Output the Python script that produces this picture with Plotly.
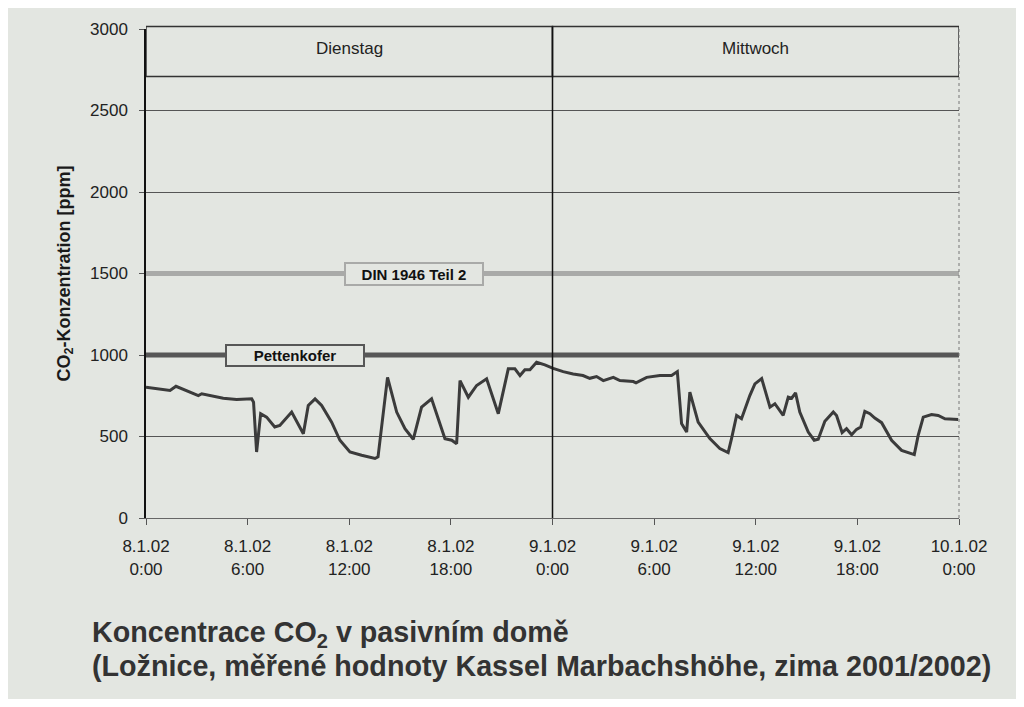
import plotly.graph_objects as go

# hours since 8.1.02 0:00
hours = [0, 1.42, 1.77, 2.4, 3.09, 3.29, 4.56, 5.35, 6.24, 6.35, 6.53, 6.77, 7.12, 7.6, 7.9,
         8.6, 9.29, 9.58, 9.98, 10.37, 10.96, 11.45, 12.04, 12.73, 13.52, 13.7, 14.26, 14.8,
         15.29, 15.78, 16.27, 16.86, 17.65, 18.05, 18.34, 18.54, 19.03, 19.52, 20.11, 20.8,
         21.39, 21.78, 22.08, 22.37, 22.67, 23.06, 23.55, 24.04, 24.63, 25.22, 25.8, 26.2,
         26.6, 27.0, 27.59, 27.98, 28.77, 28.93, 29.56, 30.34, 31.03, 31.37, 31.62, 31.92,
         32.11, 32.6, 33.29, 33.88, 34.37, 34.57, 34.87, 35.16, 35.65, 35.95, 36.35, 36.84,
         37.13, 37.62, 37.92, 38.12, 38.35, 38.6, 39.1, 39.45, 39.69, 40.08, 40.58, 40.77,
         41.1, 41.36, 41.66, 41.95, 42.2, 42.44, 42.74, 43.03, 43.43, 44.02, 44.61, 45.36,
         45.59, 45.89, 46.38, 46.77, 47.17, 47.95]
co2 = [802, 782, 808, 782, 751, 762, 735, 727, 731, 710, 405, 640, 619, 558, 568,
       650, 517, 690, 731, 690, 588, 477, 405, 385, 365, 375, 863, 650,
       548, 483, 680, 731, 487, 477, 456, 843, 741, 813, 854, 640,
       915, 915, 874, 910, 910, 955, 939, 918, 898, 884, 874, 857,
       868, 843, 863, 843, 837, 829, 863, 874, 874, 898, 579, 527,
       772, 588, 487, 426, 401, 487, 629, 609, 751, 823, 855, 680,
       701, 629, 741, 735, 768, 650, 527, 477, 483, 593, 650, 629,
       524, 548, 511, 544, 558, 654, 640, 613, 585, 477, 415, 389,
       507, 619, 635, 629, 609, 605]

tick_hours = [0, 6, 12, 18, 24, 30, 36, 42, 48]
tick_labels = ["8.1.02<br>0:00", "8.1.02<br>6:00", "8.1.02<br>12:00", "8.1.02<br>18:00",
               "9.1.02<br>0:00", "9.1.02<br>6:00", "9.1.02<br>12:00", "9.1.02<br>18:00",
               "10.1.02<br>0:00"]
y_ticks = [0, 500, 1000, 1500, 2000, 2500, 3000]
days = ["Dienstag", "Mittwoch"]
day_spans = [(0, 24), (24, 48)]
limits = {"DIN 1946 Teil 2": 1500, "Pettenkofer": 1000}
limit_label_x = {"DIN 1946 Teil 2": 15.8, "Pettenkofer": 8.8}

BG = "#e3e6e1"
FONT = "Liberation Sans, Arial, sans-serif"

fig = go.Figure()

# limit lines
fig.add_trace(go.Scatter(x=[0, 48], y=[limits["DIN 1946 Teil 2"]] * 2, mode="lines",
                         line=dict(color="#a9aaa8", width=5), hoverinfo="skip", showlegend=False))
fig.add_trace(go.Scatter(x=[0, 48], y=[limits["Pettenkofer"]] * 2, mode="lines",
                         line=dict(color="#575757", width=5), hoverinfo="skip", showlegend=False))

fig.add_trace(go.Scatter(x=hours, y=co2, mode="lines",
                         line=dict(color="#3b3b3b", width=3), showlegend=False))

shapes = []
# day header boxes
for (a, b) in day_spans:
    shapes.append(dict(type="rect", xref="x", yref="paper", x0=a, x1=b, y0=0.903, y1=1.005,
                       line=dict(color="#333", width=1.5), fillcolor=BG, layer="above"))
# midnight divider
shapes.append(dict(type="line", xref="x", yref="paper", x0=24, x1=24, y0=0, y1=1.005,
                   line=dict(color="#111", width=1.5), layer="above"))
# right border
shapes.append(dict(type="line", xref="paper", yref="paper", x0=1, x1=1, y0=0, y1=1.005,
                   line=dict(color="#777", width=1, dash="dot")))

annotations = []
for (a, b), d in zip(day_spans, days):
    annotations.append(dict(x=(a + b) / 2, y=0.96, xref="x", yref="paper", text=d,
                            xanchor="center", yanchor="middle",
                            showarrow=False, font=dict(family=FONT, size=17, color="#222")))

annotations.append(dict(x=limit_label_x["DIN 1946 Teil 2"], y=limits["DIN 1946 Teil 2"],
                        xref="x", yref="y", text="<b>DIN 1946 Teil 2</b>", showarrow=False,
                        xanchor="center", yanchor="middle",
                        font=dict(family=FONT, size=15, color="#111"), bgcolor=BG,
                        bordercolor="#a9aaa8", borderwidth=2, width=134, height=18, borderpad=1))
annotations.append(dict(x=limit_label_x["Pettenkofer"], y=limits["Pettenkofer"],
                        xref="x", yref="y", text="<b>Pettenkofer</b>", showarrow=False,
                        xanchor="center", yanchor="middle",
                        font=dict(family=FONT, size=15, color="#111"), bgcolor=BG,
                        bordercolor="#575757", borderwidth=2, width=134, height=17, borderpad=1))

annotations.append(dict(x=-0.0996, y=0.5, xref="paper", yref="paper", textangle=-90,
                        xanchor="center", yanchor="middle",
                        text="<b>CO<sub>2</sub>-Konzentration [ppm]</b>", showarrow=False,
                        font=dict(family=FONT, size=18, color="#1a1a1a")))

CAP_FONT = "Liberation Sans Narrow, Arial Narrow, Liberation Sans, Arial, sans-serif"
annotations.append(dict(x=-0.069, y=-0.238, xref="paper", yref="paper", xanchor="left",
                        yanchor="middle", showarrow=False,
                        text="<b>Koncentrace CO<sub>2</sub> v pasivním domě</b>",
                        font=dict(family=CAP_FONT, size=28.7, color="#333")))
annotations.append(dict(x=-0.069, y=-0.302, xref="paper", yref="paper", xanchor="left",
                        yanchor="middle", showarrow=False,
                        text="<b>(Ložnice, měřené hodnoty Kassel Marbachshöhe, zima 2001/2002)</b>",
                        font=dict(family=CAP_FONT, size=28.7, color="#333")))

fig.update_layout(
    width=1008, height=691,
    margin=dict(l=138, r=57, t=19, b=181),
    paper_bgcolor=BG, plot_bgcolor=BG,
    shapes=shapes, annotations=annotations,
    xaxis=dict(range=[0, 48], tickmode="array", tickvals=tick_hours, ticktext=tick_labels,
               showgrid=False, zeroline=False, showline=True, linecolor="#666", linewidth=1,
               ticks="outside", ticklen=6, tickcolor="#555", ticklabelstandoff=7,
               tickfont=dict(family=FONT, size=17, color="#222")),
    yaxis=dict(range=[0, 3000], tickmode="array", tickvals=y_ticks,
               showgrid=True, gridcolor="#555", gridwidth=1, zeroline=False,
               showline=True, linecolor="#111", linewidth=1.5,
               ticks="outside", ticklen=5, tickcolor="#555", ticklabelstandoff=8,
               tickfont=dict(family=FONT, size=17, color="#222")),
)

fig.write_html("out.html")
